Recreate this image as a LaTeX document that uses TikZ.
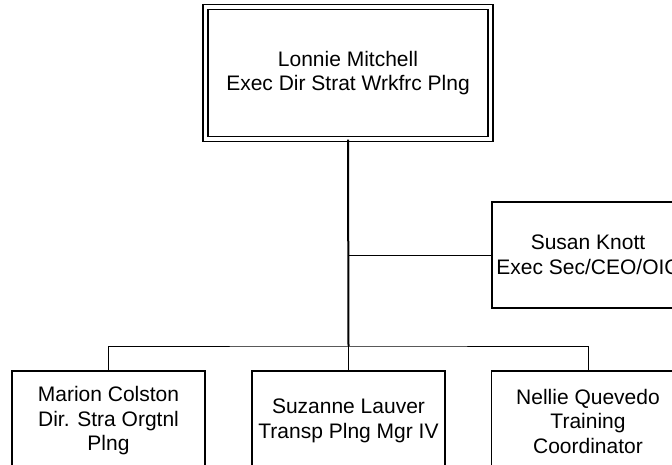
\documentclass[tikz,border=0pt]{standalone}
\usepackage{fontspec}
\setmainfont{Liberation Sans}
\begin{document}
\begin{tikzpicture}[x=1pt,y=-1pt,
  box/.style={draw,line width=1.4pt,align=center,inner sep=0pt,
    font=\fontsize{21}{24.5}\selectfont},
  link/.style={line width=1pt},
  trunk/.style={line width=2pt}]
\useasboundingbox (0,0) rectangle (672,465);
\clip (0,0) rectangle (672,465);
\node[box,double,double distance=3.6pt,line width=1.3pt,
  minimum width=285pt,minimum height=132pt] (top) at (348,73)
  {Lonnie Mitchell\\Exec Dir Strat Wrkfrc Plng};
\node[box,minimum width=192pt,minimum height=106pt] (susan) at (588,255)
  {Susan Knott\\Exec Sec/CEO/OIC};
\node[box,minimum width=193pt,minimum height=100pt] (marion) at (108.5,421)
  {Marion Colston\\Dir. Stra Orgtnl\\Plng};
\node[box,minimum width=193pt,minimum height=100pt] (suz) at (348.5,421)
  {Suzanne Lauver\\Transp Plng Mgr IV};
\node[box,minimum width=193pt,minimum height=100pt] (nellie) at (588,421)
  {Nellie Quevedo\\Training\\Coordinator};
\coordinate (j) at (348.5,346);
\draw[trunk] (top.south) -- (j);
\draw[link] (top.south |- susan.west) -- (susan.west);
\draw[link] (marion.north) |- (j) -| (nellie.north);
\draw[link] (j) -- (suz.north);
\end{tikzpicture}
\end{document}
